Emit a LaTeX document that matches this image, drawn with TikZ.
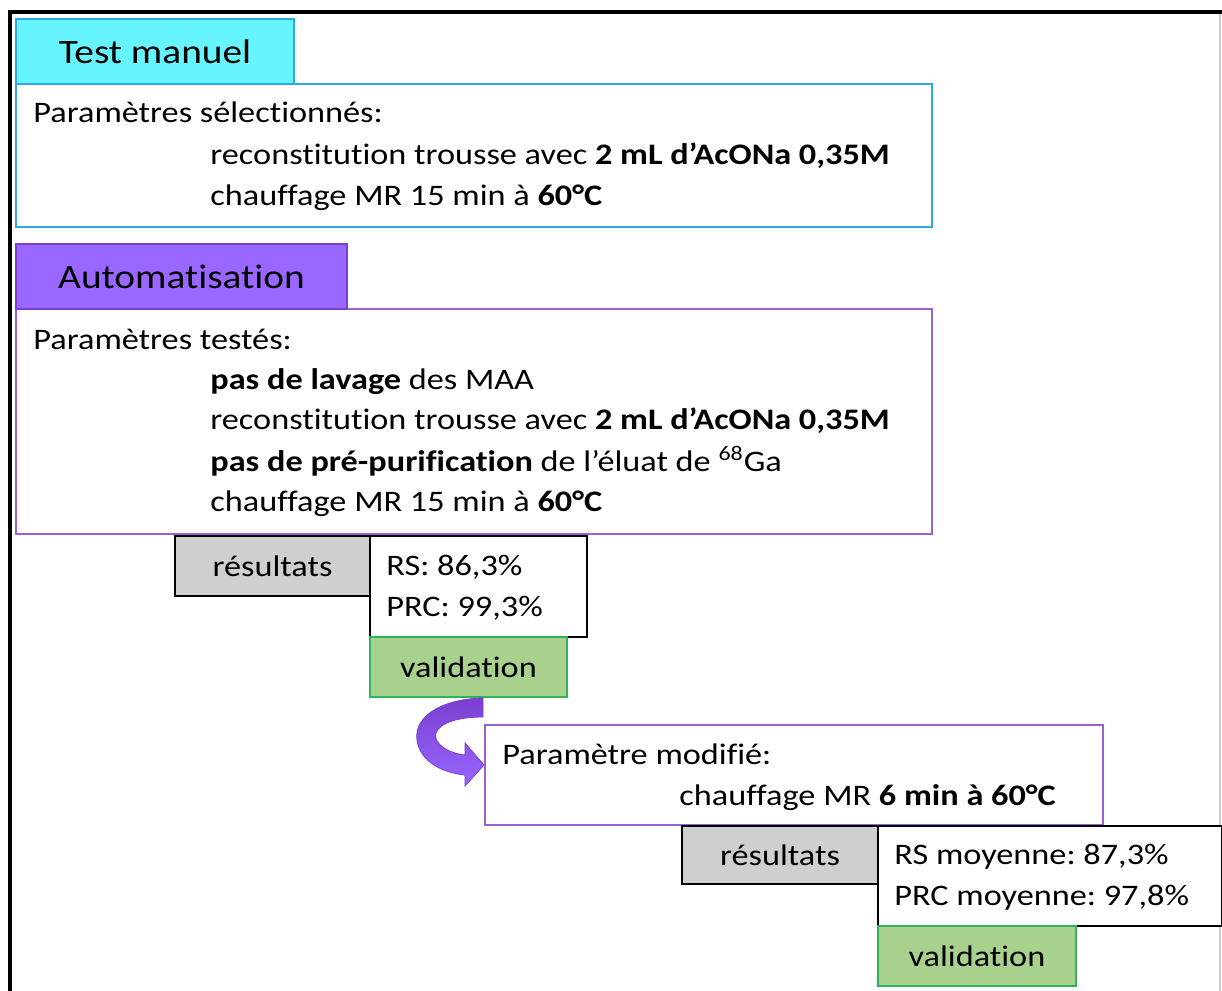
\documentclass[tikz,border=0pt]{standalone}
\usepackage{fontspec}
\setmainfont{Carlito}[FakeStretch=1.15, Ligatures=NoCommon]
\frenchspacing
\definecolor{cyanfill}{HTML}{66F5FF}
\definecolor{cyanline}{HTML}{2FA8E6}
\definecolor{violetfill}{HTML}{9966FF}
\definecolor{violetline}{HTML}{7A3FD0}
\definecolor{violetbox}{HTML}{9B5FD6}
\definecolor{greyfill}{HTML}{D0CECE}
\definecolor{greenfill}{HTML}{A9D18E}
\definecolor{greenline}{HTML}{2DB35A}

\begin{document}
\begin{tikzpicture}[x=0.5pt, y=-0.5pt,
  boite/.style={draw, line width=1pt, anchor=north west, inner sep=0pt},
  titre/.style={boite, font=\fontsize{17.1}{20}\selectfont},
  petit/.style={boite, font=\fontsize{14.9}{17}\selectfont},
  texte/.style={anchor=base west, inner sep=0pt, font=\fontsize{14.9}{17}\selectfont}]
  \useasboundingbox (0,0) rectangle (1222,991);
  % Frame
  \draw[gray!40, line width=0.6pt] (1220,12) -- (1220,991);
  \draw[line width=2pt] (1222,12) -- (10,12) -- (10,991);

  % ---- Test manuel ----
  \node[boite, draw=cyanline, minimum width=458pt, minimum height=71.5pt] (manuel) at (15,83) {};
  \node[titre, draw=cyanline, fill=cyanfill, minimum width=139pt, minimum height=32.5pt] (tmanuel) at (15,18) {Test manuel};
  \node[texte] (m1) at (33,122) {Paramètres sélectionnés:};
  \node[texte] (m2) at (210,164) {reconstitution trousse avec \textbf{2 mL d’AcONa 0,35M}};
  \node[texte] (m3) at (210,205) {chauffage MR 15 min à \textbf{60°C}};

  % ---- Automatisation ----
  \node[boite, draw=violetbox, minimum width=458pt, minimum height=112.5pt] (auto) at (15,308) {};
  \node[titre, draw=violetline, fill=violetfill, minimum width=165.5pt, minimum height=32.5pt] (tauto) at (15,243) {Automatisation};
  \node[texte] (a1) at (33,349) {Paramètres testés:};
  \node[texte] (a2) at (210,389) {\textbf{pas de lavage} des MAA};
  \node[texte] (a3) at (210,429) {reconstitution trousse avec \textbf{2 mL d’AcONa 0,35M}};
  \node[texte] (a4) at (210,471) {\textbf{pas de pré-purification} de l’éluat de \textsuperscript{68}Ga};
  \node[texte] (a5) at (210,511) {chauffage MR 15 min à \textbf{60°C}};

  % Results 1
  \node[petit, fill=greyfill, minimum width=97.5pt, minimum height=30pt] (res1) at (174,535) {résultats};
  \node[boite, fill=white, minimum width=108.5pt, minimum height=50.5pt] (val1) at (369,535) {};
  \node[texte] (r1) at (386,575) {RS: 86,3\%};
  \node[texte] (r2) at (386,616) {PRC: 99,3\%};
  \node[petit, draw=greenline, fill=greenfill, minimum width=98.5pt, minimum height=30pt] (ok1) at (369,636) {validation};

  % Curved arrow
  \shade[top color=violetline, bottom color=violetfill, draw=violetline, line width=0.4pt]
    (483,698) .. controls (440,699) and (410,718) .. (418,745)
    .. controls (424,764) and (445,773) .. (465,775) -- (465,786) -- (484,765)
    -- (465,743) -- (465,755) .. controls (447,753) and (433,743) .. (436,733)
    .. controls (440,722) and (460,717) .. (483,717) -- cycle;

  % ---- Modified parameter ----
  \node[boite, draw=violetbox, minimum width=309pt, minimum height=50pt] (modif) at (484,724) {};
  \node[texte] (p1) at (502,764) {Paramètre modifié:};
  \node[texte] (p2) at (679,805) {chauffage MR \textbf{6 min à 60°C}};

  % Results 2
  \node[petit, fill=greyfill, minimum width=98pt, minimum height=29pt] (res2) at (681,825) {résultats};
  \node[boite, fill=white, minimum width=172pt, minimum height=50pt] (val2) at (877,825) {};
  \node[texte] (s1) at (894,864) {RS moyenne: 87,3\%};
  \node[texte] (s2) at (894,905) {PRC moyenne: 97,8\%};
  \node[petit, draw=greenline, fill=greenfill, minimum width=99pt, minimum height=30pt] (ok2) at (877,925) {validation};
\end{tikzpicture}
\end{document}
